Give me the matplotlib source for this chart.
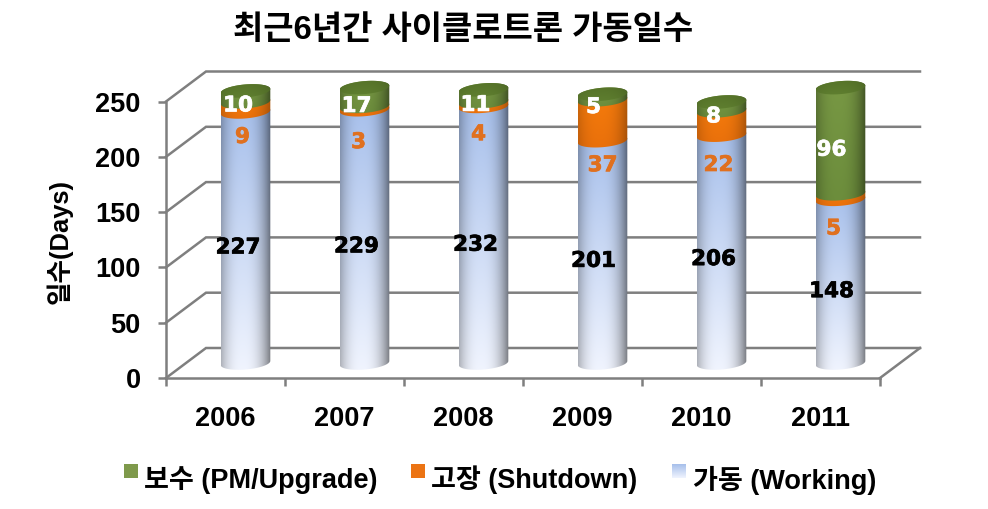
import matplotlib
matplotlib.use("Agg")
import matplotlib.pyplot as plt
import matplotlib.patheffects as pe
import numpy as np
from matplotlib.colors import to_rgb
from matplotlib.patches import Polygon

plt.rcParams['font.family'] = ['Liberation Sans', 'Noto Sans CJK KR']
plt.rcParams['font.weight'] = 'bold'

years = ['2006', '2007', '2008', '2009', '2010', '2011']
working = [227, 229, 232, 201, 206, 148]
shutdown = [9, 3, 4, 37, 22, 5]
upgrade = [10, 17, 11, 5, 8, 96]

y_ticks = [0, 50, 100, 150, 200, 250]

# hand placed labels, offset in pixels from the middle of each segment
working_off = [(-7.5, -10), (-8, -10), (-8, -10), (-9, -9), (-8, -10), (-9, -10)]
shutdown_off = [(-3, -30), (-6, -34), (-5, -30), (0, -45), (-3, -42), (-7, -32)]
upgrade_off = [(-7.5, -9), (-8, -9), (-8, -9), (-9, -10), (-8, -10), (-9, -9)]

W, H = 988, 509
GRAY = '#7f7f7f'
PX_X = 119.0     # pixels per category
PX_Y = 1.106     # pixels per day

fig = plt.figure(figsize=(W / 100, H / 100), dpi=100, facecolor='white')
ax = fig.add_axes([166 / W, 1 - 378 / H, 714 / W, 276.5 / H])
ax.set_facecolor('none')

DX = 40 / PX_X   # depth of the 3d box in data units
DY = 30 / PX_Y
HALF = 24.8 / PX_X
RY = 6.5 / PX_Y
TILT = 2.0 / PX_Y


def from_px(px, py):
    return (px - 166) / PX_X - 0.5, (378 - py) / PX_Y


def shade_profile(n=80, depth=0.45):
    u = np.linspace(-1, 1, n)
    return 1 - depth * (np.abs(u + 0.12) / 1.12) ** 2.6


def fill_gradient(path, x0, x1, y0, y1, bottom, top, depth=0.45, z=3):
    # vertical colour ramp times the side shading of the cylinder
    ramp = np.linspace(0, 1, 60)[:, None, None]
    c0 = np.array(to_rgb(bottom))[None, None, :]
    c1 = np.array(to_rgb(top))[None, None, :]
    img = (c0 * (1 - ramp) + c1 * ramp) * shade_profile(depth=depth)[None, :, None]
    im = ax.imshow(np.clip(img, 0, 1), extent=[x0, x1, y0, y1], origin='lower',
                   aspect='auto', interpolation='bilinear', zorder=z)
    patch = Polygon(path, closed=True, transform=ax.transData, facecolor='none',
                    edgecolor='none')
    im.set_clip_box(fig.bbox)
    im.set_clip_path(patch)


def arc(cx, yc, t):
    return np.column_stack([cx + HALF * np.cos(t),
                            yc + RY * np.sin(t) + TILT * np.cos(t)])


def segment(cx, lo, hi, bottom, top, depth=0.45, z=3):
    front = arc(cx, lo, np.linspace(np.pi, 2 * np.pi, 40))
    back = arc(cx, hi, np.linspace(0, np.pi, 40))
    y0 = lo - RY - TILT
    y1 = hi + RY + TILT
    fill_gradient(np.vstack([front, back]), cx - HALF, cx + HALF, y0, y1,
                  bottom, top, depth, z)


def cap(cx, yc, bottom, top, z):
    ring = arc(cx, yc, np.linspace(0, 2 * np.pi, 80))
    fill_gradient(ring, cx - HALF, cx + HALF, yc - RY - TILT, yc + RY + TILT,
                  bottom, top, 0.12, z)


# walls and floor of the 3d box
for v in y_ticks:
    ax.plot([-0.5, -0.5 + DX, 5.5 + DX], [v, v + DY, v + DY], color=GRAY, lw=1.8,
            clip_on=False, zorder=1, solid_joinstyle='miter')
ax.plot([5.5, 5.5 + DX], [0, DY], color=GRAY, lw=1.8, clip_on=False, zorder=1)

# cylinders
for i in range(len(years)):
    cx = i + DX / 2
    base = DY / 2
    w_top = base + working[i]
    s_top = w_top + shutdown[i]
    g_top = s_top + upgrade[i]
    z = 3 + i
    segment(cx, base, w_top, '#f0f4fe', '#a6bfeb', depth=0.5, z=z)
    segment(cx, w_top, s_top, '#e9700c', '#f67c0c', depth=0.3, z=z + 0.1)
    segment(cx, s_top, g_top, '#6c8d3c', '#789844', depth=0.45, z=z + 0.2)
    cap(cx, g_top, '#5f7f30', '#567329', z + 0.3)

    mids = [(base + w_top) / 2, (w_top + s_top) / 2, (s_top + g_top) / 2]
    vals = [working[i], shutdown[i], upgrade[i]]
    offs = [working_off[i], shutdown_off[i], upgrade_off[i]]
    cols = ['black', '#e0701f', 'white']
    for m, val, off, col in zip(mids, vals, offs, cols):
        # the wide heavy digits of the original are closer to DejaVu bold
        t = ax.annotate(str(val), (cx, m), xytext=off, textcoords='offset pixels',
                        ha='center', va='center', fontsize=15.5, color=col,
                        family='DejaVu Sans', annotation_clip=False, zorder=20)
        t.set_path_effects([pe.withStroke(linewidth=0.5, foreground=col)])

# front axes
ax.set_xlim(-0.5, 5.5)
ax.set_ylim(0, 250)
for s in ['top', 'right']:
    ax.spines[s].set_visible(False)
for s in ['left', 'bottom']:
    ax.spines[s].set_color(GRAY)
    ax.spines[s].set_linewidth(1.8)
    ax.spines[s].set_zorder(2)
ax.set_xticks(np.arange(-0.5, 6))
ax.set_xticklabels([])
ax.set_xticks(np.arange(len(years)), minor=True)
ax.set_xticklabels(years, minor=True, fontsize=19.5)
ax.set_yticks(y_ticks)
ax.set_yticklabels([str(v) for v in y_ticks], fontsize=19.5)
ax.tick_params(axis='both', which='major', length=5.8, width=1.8, color=GRAY)
ax.tick_params(axis='y', pad=12.5)
ax.tick_params(axis='x', which='minor', length=0, pad=20)

fig.text(463 / W, 1 - 30 / H, '최근6년간 사이클로트론 가동일수', ha='center', va='center',
         fontsize=23.7)
fig.text(59 / W, 1 - 241 / H, '일수(Days)', rotation=90, ha='center', va='center',
         fontsize=18.4)

# legend
legend_names = ['보수 (PM/Upgrade)', '고장 (Shutdown)', '가동 (Working)']
legend_low = ['#7f9a4c', '#ec7414', '#f0f4fe']
legend_high = ['#7f9a4c', '#ec7414', '#a6bfeb']
legend_x = [124, 411, 672]
legend_text_x = [144, 431, 693]
for name, lo, hi, sx, tx in zip(legend_names, legend_low, legend_high, legend_x, legend_text_x):
    x0, y0 = from_px(sx, 478)
    x1, y1 = from_px(sx + 14, 464)
    square = [(x0, y0), (x1, y0), (x1, y1), (x0, y1)]
    fill_gradient(square, x0, x1, y0, y1, lo, hi, depth=0)
    fig.text(tx / W, 1 - 480 / H, name, ha='left', va='center', fontsize=19.5)

ax.set_xlim(-0.5, 5.5)
ax.set_ylim(0, 250)

plt.savefig('out.png', dpi=100)
